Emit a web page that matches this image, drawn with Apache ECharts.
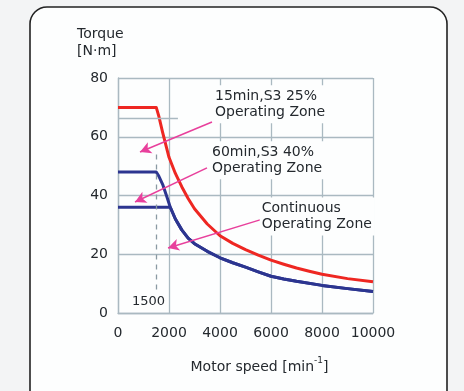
<!DOCTYPE html>
<html>
<head>
<meta charset="utf-8">
<script src="https://cdn.jsdelivr.net/npm/echarts@6/dist/echarts.min.js"></script>
<style>
html,body{margin:0;padding:0;background:#f3f4f5;}
#c{width:464px;height:391px;}
</style>
</head>
<body>
<div id="c"></div>
<script>
// ---- data ----
var xTicks = [0, 2000, 4000, 6000, 8000, 10000];
var yTicks = [0, 20, 40, 60, 80];
var speedS3_25 = [0, 1500, 1600, 1750, 2000, 2250, 2500, 2750, 3000, 3500, 4000, 4500, 5000, 5500, 6000, 6500, 7000, 7500, 8000, 9000, 10000];
var torqueS3_25 = [70, 70, 67, 61.5, 53, 47.5, 43, 39, 35.5, 30.3, 26.3, 23.7, 21.6, 19.7, 18, 16.6, 15.3, 14.2, 13.2, 11.7, 10.6];
var speedS3_40 = [0, 1500, 1600, 1750, 1900, 2050, 2250, 2500, 2750, 3000, 3500, 4000, 4500, 5000, 5500, 6000, 6500, 7000, 8000, 9000, 10000];
var torqueS3_40 = [48, 48, 46.6, 43.8, 40, 36, 32, 28.3, 25.5, 23.6, 21, 18.8, 17.1, 15.6, 14, 12.5, 11.6, 10.8, 9.4, 8.3, 7.3];
var speedCont = [0, 2050, 2250, 2500, 2750, 3000, 3500, 4000, 4500, 5000, 5500, 6000, 6500, 7000, 8000, 9000, 10000];
var torqueCont = [36, 36, 32, 28.3, 25.5, 23.6, 21, 18.8, 17.1, 15.6, 14, 12.5, 11.6, 10.8, 9.4, 8.3, 7.3];
var zoneLabels = ['15min,S3 25%\nOperating Zone', '60min,S3 40%\nOperating Zone', 'Continuous\nOperating Zone'];
var zoneLabelPos = [[3725, 77.5], [3610, 58.5], [5560, 39.3]];
var arrowFrom = [[3686, 65], [3490, 49.4], [5569, 31.7]];
var arrowTo = [[863, 54.8], [667, 37.8], [1961, 22.1]];
var baseSpeed = 1500;
var baseSpeedRange = [8, 55];
var baseSpeedLabelPos = [549, 3.8];
var stubLine = [[0, 66.4], [2350, 66.4]];

function pairs(xs, ys){ return xs.map(function(x,i){ return [x, ys[i]]; }); }

var gridColor = '#aab9c1';
var textColor = '#24292e';
var font = 'DejaVu Sans';
var chart = echarts.init(document.getElementById('c'), null, {renderer:'canvas'});

var markPoints = zoneLabels.map(function(t, i){
  return {
    coord: zoneLabelPos[i], symbol: 'rect', symbolSize: 0,
    label: {show: true, formatter: t, position: [0,0], align: 'left', verticalAlign: 'top',
      fontFamily: font, fontSize: 14, lineHeight: 16, color: textColor,
      backgroundColor: '#fdfefe', padding: [3, 3, 3, 2]}
  };
});
markPoints.push({
  coord: baseSpeedLabelPos, symbol: 'rect', symbolSize: 0,
  label: {show: true, formatter: String(baseSpeed), position: [0,0], align: 'left', verticalAlign: 'middle',
    fontFamily: font, fontSize: 13, color: textColor}
});

var arrows = arrowFrom.map(function(f, i){
  return [{coord: f}, {coord: arrowTo[i]}];
});

chart.setOption({
  animation: false,
  backgroundColor: 'transparent',
  graphic: [{
    type: 'rect', z: -10, silent: true,
    shape: {x: 30, y: 7, width: 417, height: 420, r: 17},
    style: {fill: '#fdfefe', stroke: '#222', lineWidth: 1.6}
  }],
  title: {
    text: 'Torque\n[N·m]', left: 77, top: 26, padding: 0,
    textStyle: {fontFamily: font, fontSize: 14, fontWeight: 'normal', lineHeight: 17, color: textColor}
  },
  grid: {left: 118, right: 91, top: 78, bottom: 78, containLabel: false},
  xAxis: {
    type: 'value', min: 0, max: 10000, interval: 2000,
    axisLine: {show: true, lineStyle: {color: gridColor, width: 1.3}},
    axisTick: {show: false},
    splitLine: {show: true, lineStyle: {color: gridColor, width: 1.3}},
    axisLabel: {fontFamily: font, fontSize: 14, color: textColor, margin: 13,
      formatter: function(v){ return xTicks.indexOf(v) >= 0 ? String(v) : ''; }},
    name: '{a|Motor speed [min}{s|-1}{a|]}',
    nameLocation: 'middle', nameGap: 43,
    nameTextStyle: {
      padding: [0, 0, 0, 28],
      rich: {
        a: {fontFamily: font, fontSize: 14, color: textColor, verticalAlign: 'bottom', lineHeight: 18},
        s: {fontFamily: font, fontSize: 9, color: textColor, verticalAlign: 'top', lineHeight: 18, padding: [0, 0, 8, 0]}
      }
    }
  },
  yAxis: {
    type: 'value', min: 0, max: 80, interval: 20,
    axisLine: {show: true, lineStyle: {color: gridColor, width: 1.3}},
    axisTick: {show: false},
    splitLine: {show: true, lineStyle: {color: gridColor, width: 1.3}},
    axisLabel: {fontFamily: font, fontSize: 14, color: textColor, margin: 10,
      formatter: function(v){ return yTicks.indexOf(v) >= 0 ? String(v) : ''; }}
  },
  series: [
    {
      name: 'Continuous', type: 'line', data: pairs(speedCont, torqueCont),
      symbol: 'none', lineStyle: {color: '#2c3590', width: 3, join: 'round'}, z: 3
    },
    {
      name: '60min,S3 40%', type: 'line', data: pairs(speedS3_40, torqueS3_40),
      symbol: 'none', lineStyle: {color: '#2c3590', width: 3, join: 'round'}, z: 3
    },
    {
      name: '15min,S3 25%', type: 'line', data: pairs(speedS3_25, torqueS3_25),
      symbol: 'none', lineStyle: {color: '#ee2722', width: 3, join: 'round'}, z: 4,
      markPoint: {silent: true, data: markPoints, z: 5},
      markLine: {
        silent: true, symbol: ['none', 'arrow'], symbolSize: [9, 11],
        label: {show: false},
        lineStyle: {color: '#e8409c', width: 1.5, type: 'solid'},
        data: arrows.concat([
          [{coord: [baseSpeed, baseSpeedRange[0]], symbol: 'none', lineStyle: {color: '#8a9aa3', width: 1.3, type: [5, 5]}},
           {coord: [baseSpeed, baseSpeedRange[1]], symbol: 'none'}],
          [{coord: stubLine[0], symbol: 'none', lineStyle: {color: gridColor, width: 1.3, type: 'solid'}},
           {coord: stubLine[1], symbol: 'none'}]
        ])
      }
    }
  ]
});
</script>
</body>
</html>
